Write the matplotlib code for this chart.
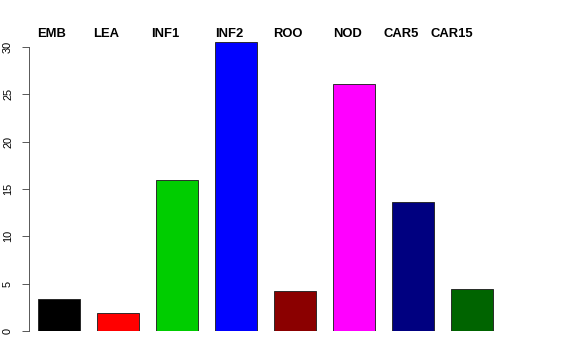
import matplotlib
matplotlib.use("Agg")
import matplotlib.pyplot as plt

categories = ["EMB", "LEA", "INF1", "INF2", "ROO", "NOD", "CAR5", "CAR15"]
values = [3.35, 1.87, 15.95, 30.5, 4.22, 26.06, 13.6, 4.4]
colors = ["#000000", "#FF0000", "#00CD00", "#0000FF", "#8B0000", "#FF00FF", "#000080", "#006400"]
label_x = [0.378, 1.707, 3.083, 4.602, 5.978, 7.402, 8.589, 9.704]
yticks = [0, 5, 10, 15, 20, 25, 30]

plt.rcParams['font.family'] = ['Liberation Sans', 'DejaVu Sans']

W, H = 576, 360
fig = plt.figure(figsize=(W / 72, H / 72), dpi=72)
ax = fig.add_axes([29 / W, 29 / H, 516 / W, 299 / H])

pos = [0.9 + 1.4 * i for i in range(len(values))]
ax.bar(pos, values, width=1.0, color=colors, edgecolor="#222222", linewidth=0.9)

ax.set_xlim(0.188, 12.43)
ax.set_ylim(0, 31.58)
for s in ["top", "right", "bottom"]:
    ax.spines[s].set_visible(False)
ax.spines["left"].set_bounds(0, 30)
ax.spines["left"].set_color("#333333")
ax.set_xticks([])
ax.set_yticks(yticks)
ax.set_yticklabels([str(t) for t in yticks], rotation=90, va="center", fontsize=11)
ax.tick_params(axis="y", length=7, width=0.8, color="#333333", pad=9)

for x, name in zip(label_x, categories):
    ax.text(x, 31.1, name, ha="left", va="baseline", fontsize=13,
            fontweight="bold", clip_on=False)

fig.savefig("out.png", dpi=72)
